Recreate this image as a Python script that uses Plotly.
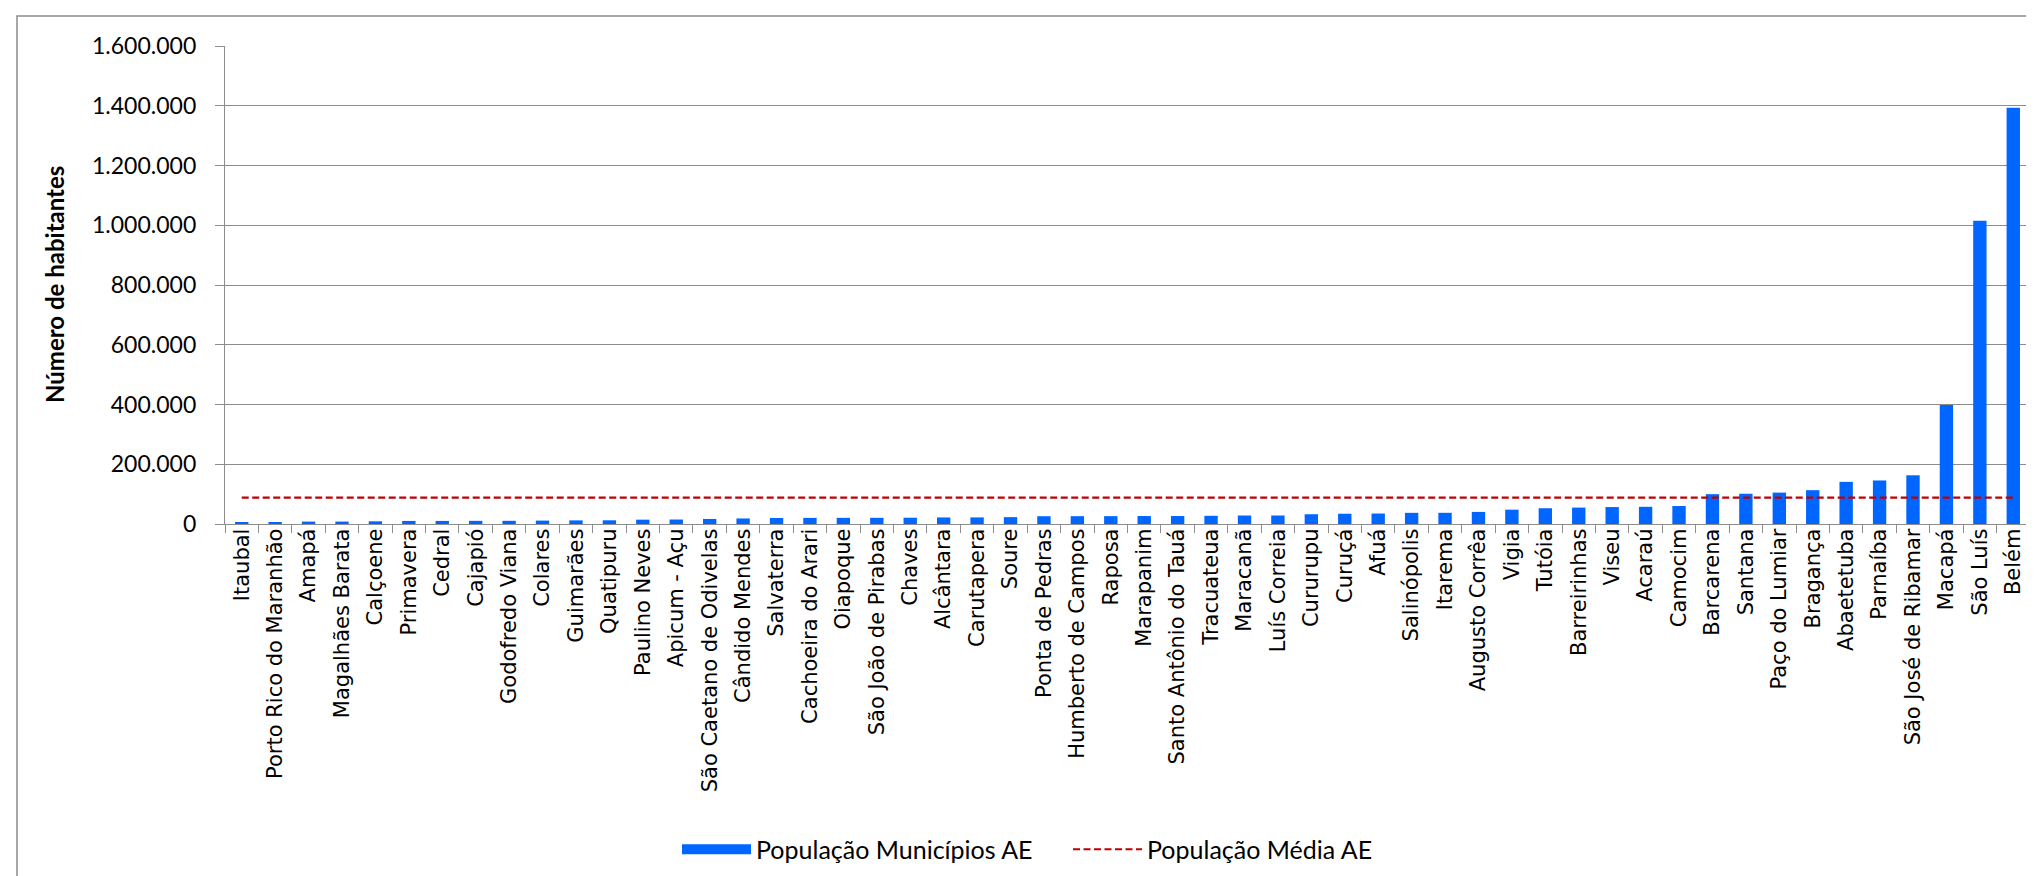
import plotly.graph_objects as go

municipios = [
    "Itaubal", "Porto Rico do Maranhão", "Amapá", "Magalhães Barata", "Calçoene",
    "Primavera", "Cedral", "Cajapió", "Godofredo Viana", "Colares", "Guimarães",
    "Quatipuru", "Paulino Neves", "Apicum - Açu", "São Caetano de Odivelas",
    "Cândido Mendes", "Salvaterra", "Cachoeira do Arari", "Oiapoque",
    "São João de Pirabas", "Chaves", "Alcântara", "Carutapera", "Soure",
    "Ponta de Pedras", "Humberto de Campos", "Raposa", "Marapanim",
    "Santo Antônio do Tauá", "Tracuateua", "Maracanã", "Luís Correia", "Cururupu",
    "Curuçá", "Afuá", "Salinópolis", "Itarema", "Augusto Corrêa", "Vigia", "Tutóia",
    "Barreirinhas", "Viseu", "Acaraú", "Camocim", "Barcarena", "Santana",
    "Paço do Lumiar", "Bragança", "Abaetetuba", "Parnaíba", "São José de Ribamar",
    "Macapá", "São Luís", "Belém",
]
populacao = [
    4265, 6030, 8069, 8115, 9000, 10268, 10297, 10593, 10635, 11381, 12081,
    12411, 14519, 14959, 16891, 18505, 20183, 20443, 20509, 20647, 21005, 21851,
    22006, 23001, 25999, 26189, 26327, 26605, 26674, 27455, 28376, 28406, 32652,
    34294, 35042, 37421, 37471, 40497, 47889, 52788, 54930, 56716, 57551, 60158,
    99859, 101262, 105121, 113227, 141100, 145705, 163045, 398204, 1014837, 1393399,
]
populacao_media = 88000
y_ticks = [0, 200000, 400000, 600000, 800000, 1000000, 1200000, 1400000, 1600000]

W, H = 2034, 876
L, R, T, B = 217, 12, 38, 360
pw, ph = W - L - R, H - T - B

def px_x(p):
    return (p - L) / pw

def px_y(p):
    return (H - B - p) / ph

blue = "#0066FF"
red = "#C00000"
grid = "#8c8c8c"
font_main = "Lato, 'Open Sans', sans-serif"

fig = go.Figure()
fig.add_trace(go.Bar(
    x=municipios, y=populacao, marker=dict(color=blue, line=dict(width=0)),
    width=0.4, showlegend=False, name="População Municípios AE",
))
# legend entry with a wide bar swatch
fig.add_trace(go.Scatter(
    x=[None], y=[None], mode="lines", line=dict(color=blue, width=15),
    name="População Municípios AE",
))
fig.add_trace(go.Scatter(
    x=municipios, y=[populacao_media] * len(municipios), mode="lines",
    line=dict(color=red, width=2.2, dash="7px,3.5px"),
    name="População Média AE",
))

fig.update_layout(
    width=W, height=H,
    margin=dict(l=L, r=R, t=T, b=B, autoexpand=False),
    paper_bgcolor="white", plot_bgcolor="white",
    separators=",.",
    font=dict(family=font_main, size=23, color="black"),
    legend=dict(
        orientation="h", x=px_x(669), xanchor="left", y=px_y(841.5), yanchor="middle",
        font=dict(family=font_main, size=25, color="black"),
        itemwidth=69, entrywidth=307, entrywidthmode="pixels",
        traceorder="normal", bgcolor="rgba(0,0,0,0)",
    ),
    shapes=[dict(
        type="rect", xref="paper", yref="paper",
        x0=px_x(9), x1=px_x(2032), y0=px_y(874), y1=px_y(8),
        line=dict(color="#8c8c8c", width=1.5), layer="below",
    )],
    annotations=[dict(
        text="<b>Número de habitantes</b>", textangle=-90,
        xref="paper", yref="paper", x=px_x(46), y=px_y(277),
        xanchor="center", yanchor="middle", showarrow=False,
        font=dict(family=font_main, size=24, color="black"),
    )],
)
fig.update_xaxes(
    type="category", tickangle=-90, tickson="boundaries", ticks="outside",
    ticklen=8, tickcolor=grid, tickwidth=1.3,
    showline=True, linecolor=grid, linewidth=1.3, showgrid=False,
    tickfont=dict(family="'DejaVu Sans', sans-serif", size=21, color="black"),
    ticklabelstandoff=-5,
    range=[-0.5, len(municipios) - 0.5],
)
fig.update_yaxes(
    range=[0, 1600000], tickvals=y_ticks, tickformat=",d",
    showgrid=True, gridcolor=grid, gridwidth=1.3,
    showline=True, linecolor=grid, linewidth=1.3,
    ticks="outside", ticklen=9, tickcolor=grid, tickwidth=1.3,
    zeroline=False, ticklabelstandoff=14,
    tickfont=dict(family=font_main, size=23, color="black"),
)

fig.write_html("out.html")
